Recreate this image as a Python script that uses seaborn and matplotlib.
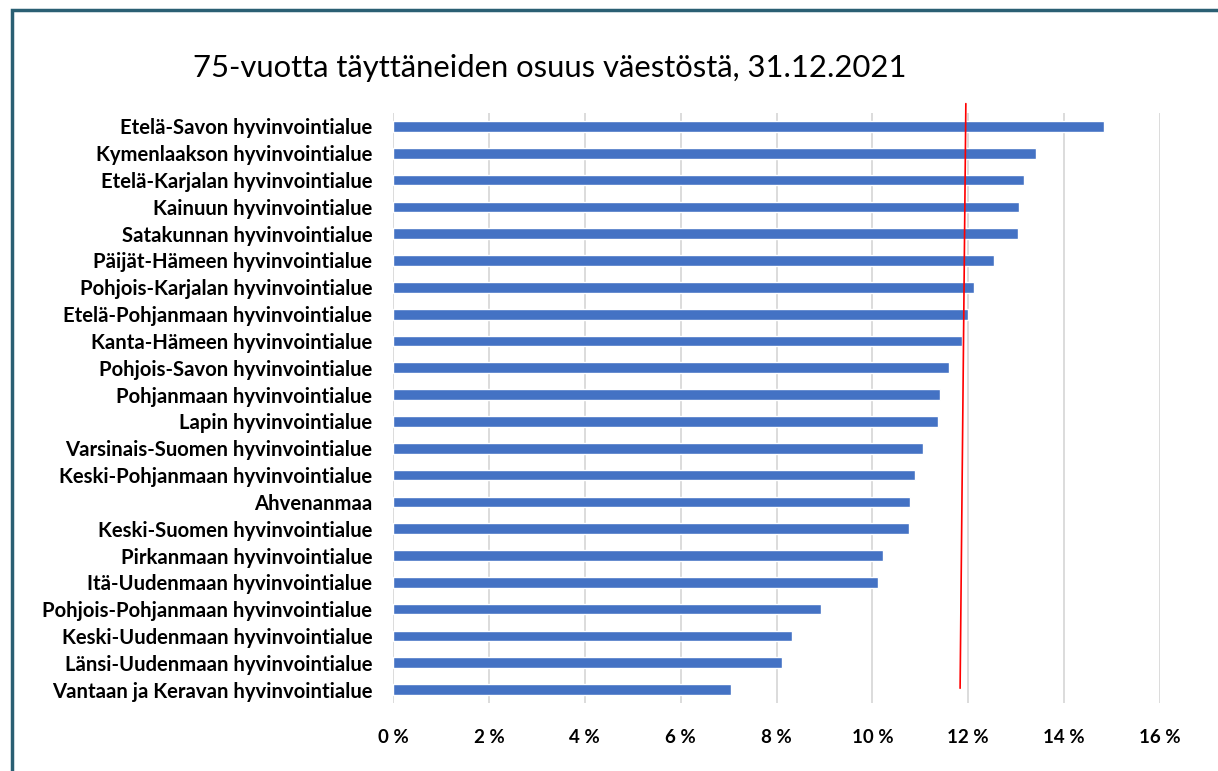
import matplotlib
matplotlib.use("Agg")
import matplotlib.pyplot as plt
import seaborn as sns
import pandas as pd
from matplotlib.patches import Rectangle

regions = [
    "Etelä-Savon hyvinvointialue",
    "Kymenlaakson hyvinvointialue",
    "Etelä-Karjalan hyvinvointialue",
    "Kainuun hyvinvointialue",
    "Satakunnan hyvinvointialue",
    "Päijät-Hämeen hyvinvointialue",
    "Pohjois-Karjalan hyvinvointialue",
    "Etelä-Pohjanmaan hyvinvointialue",
    "Kanta-Hämeen hyvinvointialue",
    "Pohjois-Savon hyvinvointialue",
    "Pohjanmaan hyvinvointialue",
    "Lapin hyvinvointialue",
    "Varsinais-Suomen hyvinvointialue",
    "Keski-Pohjanmaan hyvinvointialue",
    "Ahvenanmaa",
    "Keski-Suomen hyvinvointialue",
    "Pirkanmaan hyvinvointialue",
    "Itä-Uudenmaan hyvinvointialue",
    "Pohjois-Pohjanmaan hyvinvointialue",
    "Keski-Uudenmaan hyvinvointialue",
    "Länsi-Uudenmaan hyvinvointialue",
    "Vantaan ja Keravan hyvinvointialue",
]
shares = [14.83, 13.41, 13.16, 13.05, 13.03, 12.53, 12.13, 12.00, 11.88,
          11.60, 11.42, 11.37, 11.06, 10.89, 10.79, 10.76, 10.23, 10.11,
          8.93, 8.32, 8.12, 7.05]
xticks = [0, 2, 4, 6, 8, 10, 12, 14, 16]
xtick_labels = ["0 %", "2 %", "4 %", "6 %", "8 %", "10 %", "12 %", "14 %", "16 %"]
title = "75-vuotta täyttäneiden osuus väestöstä, 31.12.2021"
avg_line_x = [11.95, 11.83]

df = pd.DataFrame({"alue": regions, "osuus": shares})

sns.set_theme(style="white")
plt.rcParams["font.family"] = ["Lato", "DejaVu Sans"]

fig = plt.figure(figsize=(12.18, 7.71), dpi=100)
ax = fig.add_axes([393 / 1218, 1 - 703 / 771, (1160 - 393) / 1218, (703 - 113) / 771])

sns.barplot(data=df, y="alue", x="osuus", orient="h", color="#4472C4",
            saturation=1, width=0.4, ax=ax, zorder=3)

ax.set_xlim(0, 16)
ax.set_ylim(len(regions) - 0.5, -0.5)
ax.set_xticks(xticks)
ax.set_xticklabels(xtick_labels, fontsize=13.5, fontweight="bold", color="#000000")
ax.set_yticks(range(len(regions)))
ax.set_yticklabels(regions, fontsize=14.6, fontweight="bold", color="#000000")
ax.set_xlabel("")
ax.set_ylabel("")
ax.tick_params(axis="x", length=0, pad=19)
ax.tick_params(axis="y", length=0, pad=15)
ax.grid(axis="x", color="#D9D9D9", linewidth=1.3, zorder=0)
ax.grid(axis="y", visible=False)
for s in ax.spines.values():
    s.set_visible(False)

ax.plot(avg_line_x, [-0.85, len(regions) - 1.05], color="#FF0000",
        linewidth=1.2, clip_on=False, zorder=5)

fig.text(550 / 1218, 1 - 68 / 771, title, ha="center", va="center",
         fontsize=22.3, color="#000000")

fig.patches.append(Rectangle((11.5 / 1218, -0.05), 1.2, 1 - 10 / 771 + 0.05,
                             transform=fig.transFigure, fill=False,
                             edgecolor="#2A5F73", linewidth=2.5))

fig.savefig("out.png", dpi=100, facecolor="white")
